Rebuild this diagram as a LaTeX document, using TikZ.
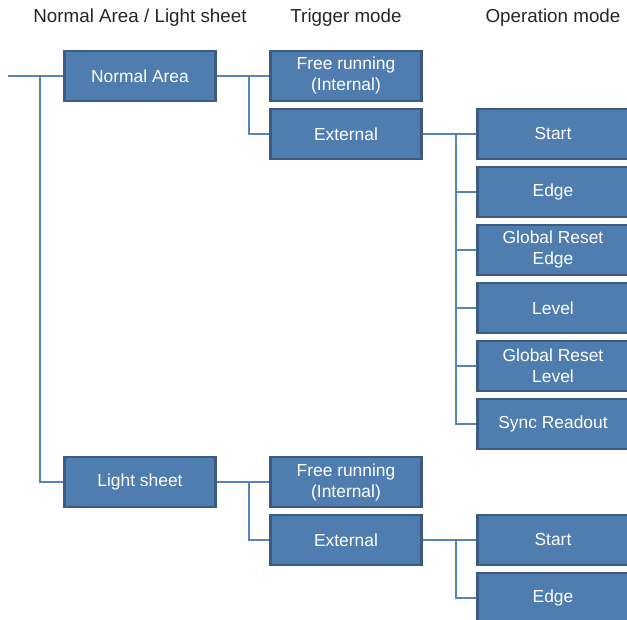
\documentclass[tikz,border=0pt]{standalone}
\usepackage{fontspec}
\setmainfont{Liberation Sans}
\usetikzlibrary{calc}
\definecolor{boxfill}{HTML}{4F7DB0}
\definecolor{boxline}{HTML}{3B5B82}
\definecolor{linkblue}{HTML}{5584BA}

\begin{document}
\begin{tikzpicture}[x=0.5pt, y=-0.5pt,
	box/.style={draw=boxline, line width=1.3pt, fill=boxfill, text=white,
		minimum width=75.5pt, minimum height=25pt, align=center, inner sep=0pt,
		font=\fontsize{8.7}{10.5}\selectfont},
	head/.style={font=\fontsize{9.4}{11}\selectfont, text=black!85},
	link/.style={draw=linkblue, line width=0.9pt}]
			%%%%% START %%%%%
			
			\useasboundingbox (0, 0) rectangle (627, 620);
			
			\node[head] (hdarea) at (140, 18) {Normal Area / Light sheet};
			\node[head] (hdtrig) at (346, 18) {Trigger mode};
			\node[head] (hdop) at (553, 18) {Operation mode};
			
			\node[box] (na) at (140, 76) {Normal Area};
			\node[box] (ls) at (140, 482) {Light sheet};
			
			\node[box] (nafree) at (346, 76) {Free running\\(Internal)};
			\node[box] (naext) at (346, 134) {External};
			\node[box] (lsfree) at (346, 482) {Free running\\(Internal)};
			\node[box] (lsext) at (346, 540) {External};
			
			\node[box] (nastart) at (553, 134) {Start};
			\node[box] (naedge) at (553, 192) {Edge};
			\node[box] (nagre) at (553, 250) {Global Reset\\Edge};
			\node[box] (nalevel) at (553, 308) {Level};
			\node[box] (nagrl) at (553, 366) {Global Reset\\Level};
			\node[box] (nasync) at (553, 424) {Sync Readout};
			
			\node[box] (lsstart) at (553, 540) {Start};
			\node[box] (lsedge) at (553, 598) {Edge};
			
			\coordinate (in) at (8, 76);
			\coordinate (split) at (40, 76);
			\draw[link] (in) -- (na.west);
			\draw[link] (split) |- (ls.west);
			
			\draw[link] (na.east) -- (nafree.west);
			\draw[link] (na.east) -- ++(32, 0) |- (naext.west);
			\draw[link] (ls.east) -- (lsfree.west);
			\draw[link] (ls.east) -- ++(32, 0) |- (lsext.west);
			
			\draw[link] (naext.east) -- (nastart.west);
			\draw[link] (naext.east) -- ++(33, 0) |- (naedge.west);
			\draw[link] (naext.east) -- ++(33, 0) |- (nagre.west);
			\draw[link] (naext.east) -- ++(33, 0) |- (nalevel.west);
			\draw[link] (naext.east) -- ++(33, 0) |- (nagrl.west);
			\draw[link] (naext.east) -- ++(33, 0) |- (nasync.west);
			
			\draw[link] (lsext.east) -- (lsstart.west);
			\draw[link] (lsext.east) -- ++(33, 0) |- (lsedge.west);
			
			%%%%% END %%%%%
\end{tikzpicture}
\end{document}
